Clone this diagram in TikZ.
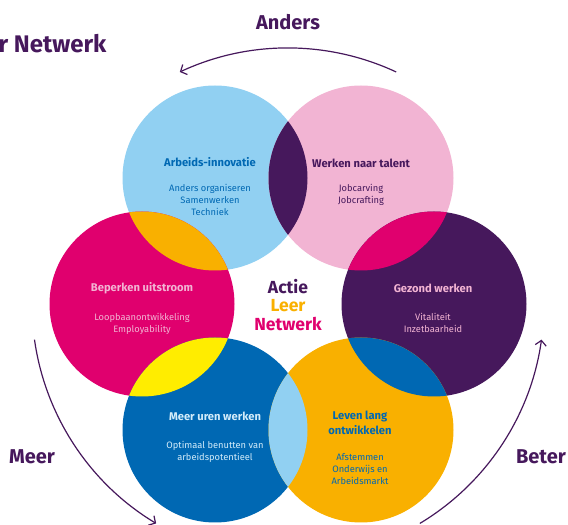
\documentclass[tikz,border=0pt]{standalone}
\usepackage{fontspec}
\setmainfont{Fira Sans}
\usetikzlibrary{arrows.meta}
\definecolor{lblue}{RGB}{145,208,242}
\definecolor{lpink}{RGB}{242,180,211}
\definecolor{mag}{RGB}{224,0,110}
\definecolor{paars}{RGB}{70,24,92}
\definecolor{dblue}{RGB}{0,104,179}
\definecolor{oranje}{RGB}{249,176,0}
\definecolor{geel}{RGB}{255,237,0}
% overlap of two circles
\newcommand{\lens}[3]{\begin{scope}\clip (#1) circle (92.5pt); \fill[#3] (#2) circle (92.5pt);\end{scope}}

\begin{document}
\begin{tikzpicture}[x=1pt, y=1pt,
    bol/.style={circle, minimum size=185pt, inner sep=0pt},
    kop/.style={font=\bfseries\fontsize{11.2}{15}\selectfont, align=center},
    sub/.style={font=\fontsize{9.3}{11.6}\selectfont, align=center},
    mid/.style={font=\bfseries\fontsize{17.5}{18}\selectfont},
    groot/.style={font=\bfseries\fontsize{20}{22}\selectfont, text=paars},
    pijl/.style={draw=paars, line width=1.2pt, -{Straight Barb[length=5pt,width=11pt]}}]
    \useasboundingbox (0,0) rectangle (568,525);
    \clip (0,0) rectangle (568,525);

    \node[bol, fill=lblue] at (215,347) (arb) {};
    \node[bol, fill=lpink] at (361,347) (tal) {};
    \node[bol, fill=mag] at (142,221) (uit) {};
    \node[bol, fill=paars] at (434,221) (gez) {};
    \node[bol, fill=dblue] at (215,95) (ure) {};
    \node[bol, fill=oranje] at (361,95) (lev) {};

    \lens{arb.center}{tal.center}{paars}
    \lens{arb.center}{uit.center}{oranje}
    \lens{tal.center}{gez.center}{mag}
    \lens{uit.center}{ure.center}{geel}
    \lens{gez.center}{lev.center}{dblue}
    \lens{ure.center}{lev.center}{lblue}

    \node[kop, text=dblue] at (210,363) (arbk) {Arbeids-innovatie};
    \node[sub, text=dblue] at (210,325) (arbs) {Anders organiseren\\Samenwerken\\Techniek};
    \node[kop, text=paars] at (361,362) (talk) {Werken naar talent};
    \node[sub, text=paars] at (361,330) (tals) {Jobcarving\\Jobcrafting};
    \node[kop, text=lpink] at (142,237) (uitk) {Beperken uitstroom};
    \node[sub, text=lpink] at (142,201) (uits) {Loopbaanontwikkeling\\Employability};
    \node[kop, text=lpink] at (433,237) (gezk) {Gezond werken};
    \node[sub, text=lpink] at (433,202) (gezs) {Vitaliteit\\Inzetbaarheid};
    \node[kop, text=lblue!40!white] at (215,109) (urek) {Meer uren werken};
    \node[sub, text=lblue!40!white] at (215,73) (ures) {Optimaal benutten van\\arbeidspotentieel};
    \node[kop, text=dblue] at (360,102) (levk) {Leven lang\\ontwikkelen};
    \node[sub, text=dblue] at (360,56) (levs) {Afstemmen\\Onderwijs en\\Arbeidsmarkt};

    \node[mid, text=paars] at (288,238) (actie) {Actie};
    \node[mid, text=oranje] at (288,219) (leer) {Leer};
    \node[mid, text=mag] at (288,201) (netw) {Netwerk};

    \node[groot, anchor=east, font=\bfseries\fontsize{24}{25}\selectfont] at (110,481) (titel) {r Netwerk};
    \node[groot] at (288,503) (anders) {Anders};
    \node[groot] at (32,68) (meer) {Meer};
    \node[groot] at (541,68) (beter) {Beter};

    \coordinate (ra) at ([shift={(65:256)}]288,221);
    \coordinate (rm) at ([shift={(188:256)}]288,221);
    \coordinate (rb) at ([shift={(301:256)}]288,221);
    \draw[pijl] (ra) arc[start angle=65, end angle=115, radius=256pt];
    \draw[pijl] (rm) arc[start angle=188, end angle=239, radius=256pt];
    \draw[pijl] (rb) arc[start angle=301, end angle=352, radius=256pt];
\end{tikzpicture}
\end{document}
